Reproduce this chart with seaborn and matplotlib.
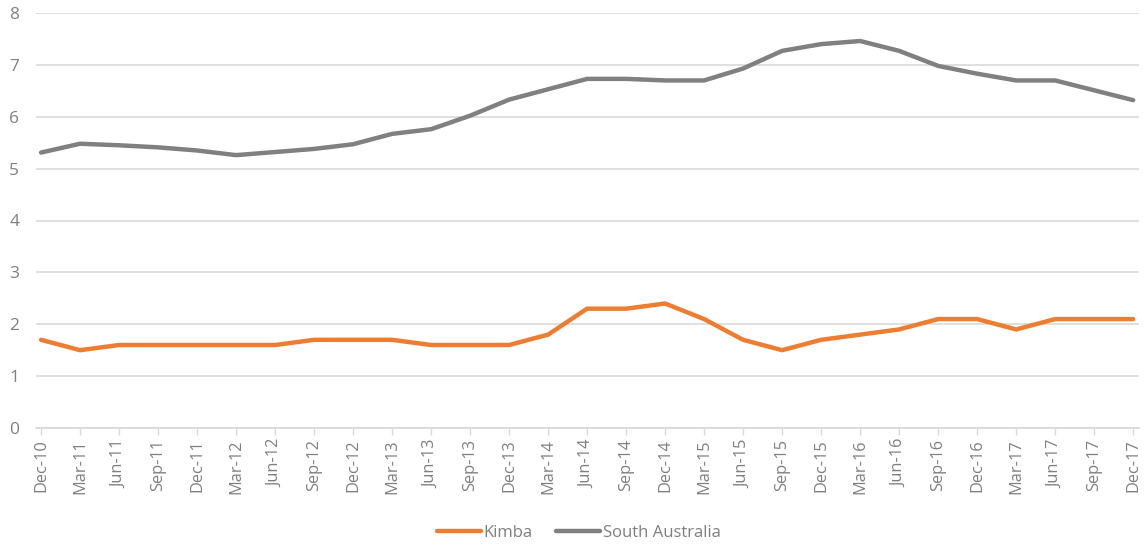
import matplotlib
matplotlib.use("Agg")
import matplotlib.pyplot as plt
import seaborn as sns
import pandas as pd

quarters = ["Dec-10", "Mar-11", "Jun-11", "Sep-11", "Dec-11", "Mar-12", "Jun-12", "Sep-12",
            "Dec-12", "Mar-13", "Jun-13", "Sep-13", "Dec-13", "Mar-14", "Jun-14", "Sep-14",
            "Dec-14", "Mar-15", "Jun-15", "Sep-15", "Dec-15", "Mar-16", "Jun-16", "Sep-16",
            "Dec-16", "Mar-17", "Jun-17", "Sep-17", "Dec-17"]
kimba = [1.7, 1.5, 1.6, 1.6, 1.6, 1.6, 1.6, 1.7, 1.7, 1.7, 1.6, 1.6, 1.6, 1.8, 2.3, 2.3,
         2.4, 2.1, 1.7, 1.5, 1.7, 1.8, 1.9, 2.1, 2.1, 1.9, 2.1, 2.1, 2.1]
south_australia = [5.31, 5.48, 5.45, 5.41, 5.35, 5.26, 5.32, 5.38, 5.47, 5.67, 5.76, 6.02,
                   6.33, 6.53, 6.73, 6.73, 6.70, 6.70, 6.93, 7.27, 7.40, 7.46, 7.27, 6.98,
                   6.83, 6.70, 6.70, 6.51, 6.32]
series_names = ["Kimba", "South Australia"]
y_ticks = [0, 1, 2, 3, 4, 5, 6, 7, 8]

sns.set_theme(style="white")
plt.rcParams['font.family'] = ['Open Sans', 'DejaVu Sans']

idx = list(range(len(quarters)))
df = pd.DataFrame({
    "x": idx * 2,
    "value": kimba + south_australia,
    "series": [series_names[0]] * len(quarters) + [series_names[1]] * len(quarters),
})

fig = plt.figure(figsize=(11.44, 5.47), dpi=100)
ax = fig.add_axes([36 / 1144, 1 - 428 / 547, (1139 - 36) / 1144, (428 - 13) / 547])

palette = {"Kimba": "#ED7D31", "South Australia": "#808080"}
sns.lineplot(data=df, x="x", y="value", hue="series", palette=palette, ax=ax,
             linewidth=3.2, legend=True)

text_color = "#7F7F7F"
grid_color = "#D9D9D9"
ax.set_ylim(0, 8)
ax.set_xlim(-0.13, 28.15)
ax.set_yticks(y_ticks)
ax.set_yticklabels([str(v) for v in y_ticks], fontsize=12.5, color=text_color)
ax.set_xticks(idx)
ax.set_xticklabels(quarters, rotation=90, fontsize=11.8, color=text_color)
ax.yaxis.grid(True, color=grid_color, linewidth=1.2)
ax.set_axisbelow(True)
for s in ["top", "right", "left"]:
    ax.spines[s].set_visible(False)
ax.spines["bottom"].set_color(grid_color)
ax.spines["bottom"].set_linewidth(1.2)
ax.tick_params(axis="x", length=5, width=1, color=grid_color, pad=3, bottom=True)
ax.tick_params(axis="y", length=0, pad=12)
ax.set_xlabel("")
ax.set_ylabel("")

handles, labels = ax.get_legend_handles_labels()
ax.get_legend().remove()
fig.legend(handles, labels, loc="center", bbox_to_anchor=(579 / 1144, 1 - 533 / 547),
           ncol=2, frameon=False, fontsize=12, labelcolor=text_color,
           handlelength=2.6, handletextpad=0.2, columnspacing=1.4)

fig.savefig("out.png", dpi=100)
